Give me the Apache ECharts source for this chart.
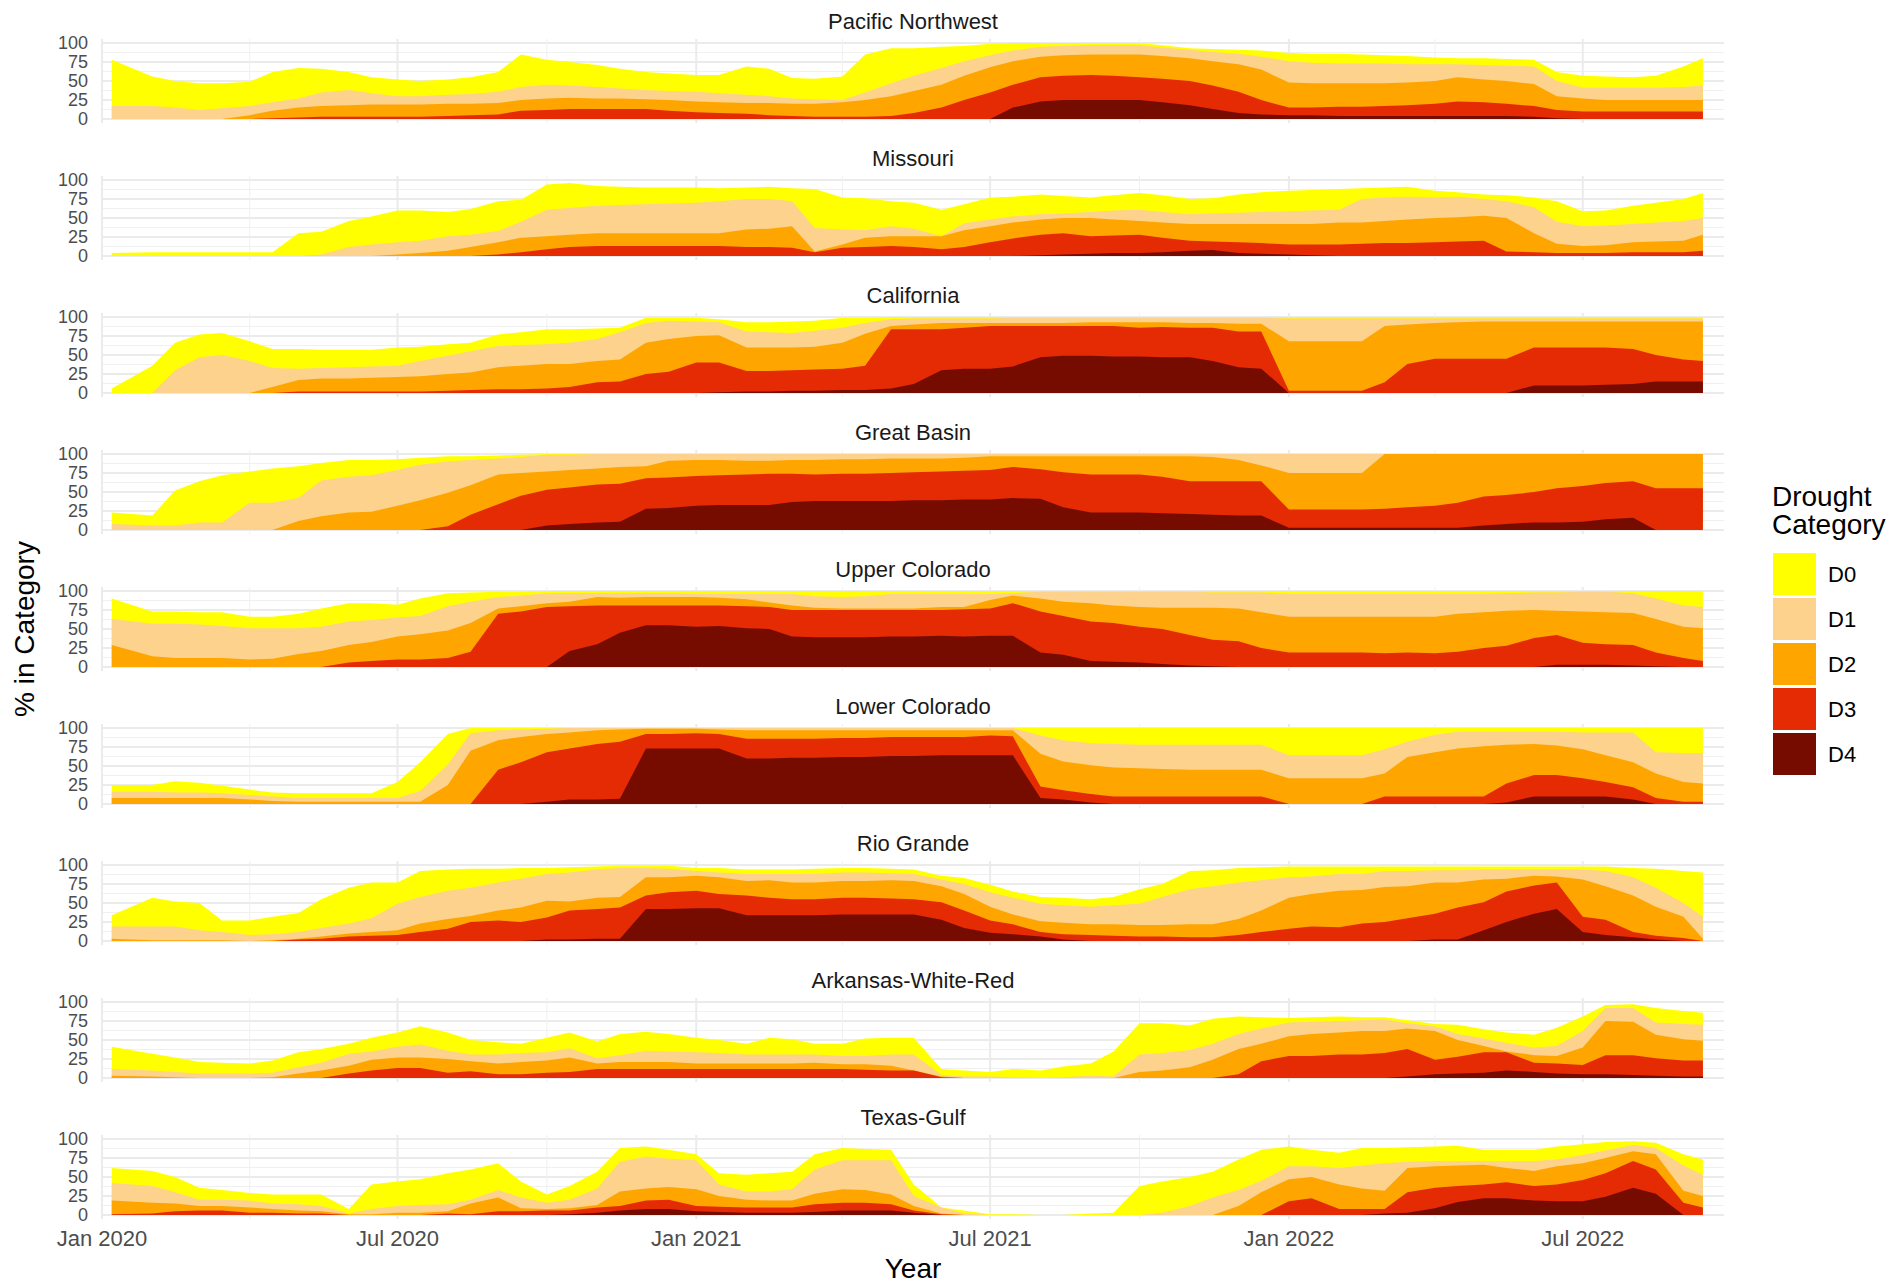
<!DOCTYPE html>
<html><head><meta charset="utf-8">
<script src="https://cdn.jsdelivr.net/npm/echarts@6/dist/echarts.min.js"></script>
<style>html,body{margin:0;padding:0;background:#fff}#c{width:1897px;height:1283px}</style>
</head><body><div id="c"></div>
<script>
// ---------- DATA (cumulative % of area in category or worse: D0 row = D0-D4, ... D4 row = D4) ----------
const dates = [
  '2020-01-07','2020-02-01','2020-02-15','2020-03-01','2020-03-15','2020-04-01','2020-04-15','2020-05-01','2020-05-15','2020-06-01','2020-06-15','2020-07-01','2020-07-15','2020-08-01','2020-08-15','2020-09-01','2020-09-15','2020-10-01','2020-10-15','2020-11-01','2020-11-15','2020-12-01','2020-12-15',
  '2021-01-01','2021-01-15','2021-02-01','2021-02-15','2021-03-01','2021-03-15','2021-04-01','2021-04-15','2021-05-01','2021-05-15','2021-06-01','2021-06-15','2021-07-01','2021-07-15','2021-08-01','2021-08-15','2021-09-01','2021-09-15','2021-10-01','2021-10-15','2021-11-01','2021-11-15','2021-12-01','2021-12-15',
  '2022-01-01','2022-01-15','2022-02-01','2022-02-15','2022-03-01','2022-03-15','2022-04-01','2022-04-15','2022-05-01','2022-05-15','2022-06-01','2022-06-15','2022-07-01','2022-07-15','2022-08-01','2022-08-15','2022-09-01','2022-09-13'];
const categories = ['D0','D1','D2','D3','D4'];
const regionNames = ['Pacific Northwest','Missouri','California','Great Basin','Upper Colorado','Lower Colorado','Rio Grande','Arkansas-White-Red','Texas-Gulf'];
const xTickValues = ['2020-01-01','2020-07-01','2021-01-01','2021-07-01','2022-01-01','2022-07-01'];
const xMinorGrid = ['2020-04-01','2020-10-01','2021-04-01','2021-10-01','2022-04-01'];
const yTickLabels = [0,25,50,75,100];

const pacificNorthwest = [
  [78,56,50,47,47,49,62,67,66,62,55,52,50,52,55,62,85,78,75,71,66,62,60,
   58,58,69,66,54,53,56,85,93,93,95,96,99,100,100,100,100,100,100,97,93,92,91,90,
   87,86,86,85,84,83,81,80,80,79,78,62,57,56,55,57,69,80],
  [17,17,15,12,14,17,22,27,35,38,34,30,30,32,33,36,42,45,44,42,40,38,37,
   36,34,32,30,27,26,25,35,47,57,67,76,84,90,95,96,97,97,97,94,91,88,86,82,
   76,74,73,73,73,72,72,72,71,70,69,50,41,41,41,41,42,44],
  [0,0,0,0,0,5,11,15,17,18,19,19,19,20,20,21,25,27,28,27,27,26,25,
   23,22,21,21,20,20,22,25,30,37,45,57,68,76,82,84,85,85,85,83,80,76,72,65,
   48,47,47,47,47,48,50,55,52,50,46,30,27,25,25,25,25,25],
  [0,0,0,0,0,0,1,2,3,3,3,3,3,4,5,6,11,12,13,13,13,13,11,
   9,8,7,5,4,3,3,3,4,8,15,25,35,45,55,57,58,57,55,53,50,44,36,25,
   15,15,16,16,17,18,20,23,22,20,17,12,10,10,10,10,10,10],
  [0,0,0,0,0,0,0,0,0,0,0,0,0,0,0,0,0,0,0,0,0,0,0,
   0,0,0,0,0,0,0,0,0,0,0,0,0,15,23,25,25,25,25,22,18,13,8,6,
   5,5,4,4,4,4,4,4,4,4,3,1,0,0,0,0,0,0]
];
const missouri = [
  [4,5,5,5,5,5,5,30,32,46,52,60,60,58,62,72,74,94,96,92,91,90,90,
   90,89,90,91,89,88,77,76,72,70,61,68,77,78,81,79,77,80,83,80,75,76,81,84,
   86,87,88,89,90,91,86,84,81,80,77,72,59,60,66,70,75,83],
  [0,0,0,0,0,0,0,0,2,12,15,18,20,26,28,33,45,61,63,66,67,68,69,
   70,72,75,75,72,37,35,34,39,36,26,43,48,52,55,56,58,60,61,58,55,56,57,58,
   59,60,61,75,77,78,77,78,75,72,64,45,39,40,42,44,46,50],
  [0,0,0,0,0,0,0,0,0,0,0,2,4,7,12,18,24,26,28,30,30,30,30,
   30,30,35,36,39,6,15,24,26,26,26,34,39,44,48,50,50,48,46,44,42,42,42,42,
   42,42,44,44,46,48,50,51,53,50,30,16,13,14,18,19,20,28],
  [0,0,0,0,0,0,0,0,0,0,0,0,0,0,0,2,5,9,12,13,13,13,13,
   13,13,12,12,11,5,11,12,13,12,9,12,18,23,28,30,26,27,28,24,20,19,18,17,
   15,15,15,16,17,17,18,19,20,6,5,4,4,4,5,5,5,7],
  [0,0,0,0,0,0,0,0,0,0,0,0,0,0,0,0,0,0,0,0,0,0,0,
   0,0,0,0,0,0,0,0,0,0,0,0,0,0,1,2,3,4,4,5,7,8,4,3,
   2,1,0,0,0,0,0,0,0,0,0,0,0,0,0,0,0,0]
];
const california = [
  [6,36,66,77,79,68,58,58,57,57,57,60,61,64,66,77,80,84,84,85,86,99,99,
   99,97,93,93,94,95,99,99,100,100,100,100,100,100,100,100,100,100,100,100,100,100,100,100,
   100,100,100,100,100,100,100,100,100,100,100,100,100,100,100,100,100,100],
  [0,0,30,47,50,42,33,32,33,34,35,36,42,49,55,62,63,64,66,71,80,92,95,
   94,93,81,80,79,82,86,92,97,98,98,98,98,99,99,99,99,99,99,99,99,99,99,99,
   98,98,98,98,98,98,98,98,98,98,98,98,98,98,98,98,98,98],
  [0,0,0,0,0,0,8,17,19,19,20,21,22,25,27,34,36,38,38,42,44,66,71,
   75,76,60,60,60,61,66,78,88,90,92,92,92,92,92,92,93,93,93,93,92,92,91,91,
   68,68,68,68,88,90,92,93,94,94,94,94,94,94,94,94,94,94],
  [0,0,0,0,0,0,0,2,2,2,2,2,2,3,4,5,5,6,8,14,15,25,28,
   40,40,29,29,30,31,32,36,84,84,84,86,88,88,88,88,88,88,86,87,86,86,81,81,
   3,3,3,3,14,38,45,45,45,45,60,60,60,60,58,50,44,42],
  [0,0,0,0,0,0,0,0,0,0,0,0,0,0,0,0,0,0,0,0,0,0,0,
   0,1,2,2,3,3,4,4,6,12,30,32,32,35,47,49,49,48,48,47,47,42,34,32,
   0,0,0,0,0,0,0,0,0,0,10,10,10,11,12,15,15,15]
];
const greatBasin = [
  [23,19,52,64,72,77,81,84,88,92,92,93,95,97,97,98,99,100,100,100,100,100,100,
   100,100,100,100,100,100,100,100,100,100,100,100,100,100,100,100,100,100,100,100,100,100,100,100,
   100,100,100,100,100,100,100,100,100,100,100,100,100,100,100,100,100,100],
  [8,6,6,10,10,36,36,42,65,70,72,79,86,90,92,94,96,99,99,100,100,100,100,
   100,100,100,100,100,100,100,100,100,100,100,100,100,100,100,100,100,100,100,100,100,100,100,100,
   100,100,100,100,100,100,100,100,100,100,100,100,100,100,100,100,100,100],
  [0,0,0,0,0,0,0,12,18,23,24,32,39,49,59,73,75,77,79,81,83,84,91,
   92,92,91,91,92,92,93,93,94,94,94,95,97,97,97,97,97,97,97,97,97,96,92,85,
   75,75,75,75,100,100,100,100,100,100,100,100,100,100,100,100,100,100],
  [0,0,0,0,0,0,0,0,0,0,0,0,0,5,20,34,45,53,56,60,61,68,69,
   71,72,73,74,74,73,74,74,75,76,77,78,79,83,80,76,73,73,73,70,64,64,64,64,
   27,27,27,27,28,30,32,36,44,46,50,55,58,62,64,55,55,55],
  [0,0,0,0,0,0,0,0,0,0,0,0,0,0,0,0,0,6,8,10,11,28,29,
   32,33,33,33,37,38,38,38,38,39,39,40,40,42,41,30,23,23,23,22,21,20,19,19,
   3,3,3,3,3,3,3,3,6,8,10,10,11,14,16,0,0,0]
];
const upperColorado = [
  [90,73,73,72,72,66,66,70,77,84,84,82,90,97,98,99,99,100,100,100,100,100,100,
   100,100,100,100,100,100,100,100,100,100,100,100,100,100,100,100,100,100,100,100,100,100,100,100,
   100,100,100,100,100,100,100,100,100,100,100,100,100,100,100,100,100,100],
  [63,57,57,56,54,51,51,51,53,60,62,65,67,80,86,92,94,97,97,97,97,97,97,
   96,96,96,96,96,93,92,93,96,96,96,96,96,97,99,99,99,99,99,99,99,98,98,98,
   96,96,96,96,96,96,96,96,96,97,98,98,99,99,97,90,81,79],
  [29,14,12,12,12,10,11,17,21,29,33,40,43,48,58,77,80,84,86,92,91,92,92,
   92,91,89,85,81,78,77,77,77,77,79,79,88,94,90,86,84,81,79,78,78,78,77,72,
   66,66,66,66,66,66,66,70,72,74,75,74,73,72,71,63,53,51],
  [0,0,0,0,0,0,0,0,0,6,8,10,10,12,20,70,73,79,80,81,81,81,81,
   81,81,80,79,75,75,75,75,75,75,75,76,77,84,73,67,60,58,53,50,42,36,34,25,
   19,19,19,19,18,19,18,20,25,28,38,42,32,30,29,19,12,8],
  [0,0,0,0,0,0,0,0,0,0,0,0,0,0,0,0,0,0,21,30,45,55,55,
   53,54,51,50,40,39,39,39,40,40,41,40,41,41,19,16,8,7,6,4,2,1,0,0,
   0,0,0,0,0,0,0,0,0,0,0,3,3,3,2,1,0,0]
];
const lowerColorado = [
  [25,25,30,28,24,19,15,14,14,14,14,29,55,92,100,100,100,100,100,100,100,100,100,
   100,100,100,100,100,100,100,100,100,100,100,100,100,100,100,100,100,100,100,100,100,100,100,100,
   100,100,100,100,100,100,100,100,100,100,100,100,100,100,100,100,100,100],
  [16,16,15,15,14,12,10,8,8,8,8,8,17,52,93,97,98,99,100,100,100,100,100,
   100,100,100,100,100,100,100,100,100,100,100,100,100,100,90,84,80,79,78,78,78,78,78,78,
   64,64,64,64,72,82,91,95,95,95,95,95,94,94,94,68,67,67],
  [8,8,8,8,8,6,4,3,3,3,3,3,3,25,70,84,88,92,94,97,98,99,99,
   99,98,97,97,97,97,97,97,97,97,97,97,97,97,66,56,51,48,47,46,45,45,45,45,
   34,34,34,34,40,62,68,73,76,78,79,77,72,64,55,40,29,27],
  [0,0,0,0,0,0,0,0,0,0,0,0,0,0,0,45,55,68,73,79,82,92,92,
   93,92,86,86,86,86,87,87,88,88,88,88,90,89,23,18,13,10,10,10,10,10,10,10,
   0,0,0,0,10,10,10,10,10,27,38,38,34,29,22,8,3,3],
  [0,0,0,0,0,0,0,0,0,0,0,0,0,0,0,0,0,3,6,6,7,73,73,
   73,73,60,60,61,61,62,62,63,63,64,64,64,64,8,6,2,0,0,0,0,0,0,0,
   0,0,0,0,0,0,0,0,0,2,10,10,10,10,6,0,0,0]
];
const rioGrande = [
  [34,57,52,50,27,27,32,37,55,70,77,77,92,94,95,95,96,96,97,98,99,99,99,
   96,96,94,94,94,95,96,96,95,94,86,83,74,65,58,57,55,58,68,75,92,93,96,97,
   98,98,98,98,98,98,98,98,98,98,98,98,98,98,96,95,92,90],
  [19,19,19,14,12,8,9,12,17,23,30,49,58,66,70,77,82,88,90,94,96,96,95,
   92,90,88,88,88,88,90,90,89,88,81,75,64,57,49,47,45,47,49,58,68,72,77,80,
   84,85,88,88,92,92,93,93,94,94,94,94,94,92,84,70,50,32],
  [3,1,1,1,1,0,1,3,6,10,12,14,23,29,33,40,44,53,52,57,58,84,84,
   86,84,79,80,77,77,79,79,80,79,72,62,45,35,26,24,22,22,21,21,22,22,29,40,
   57,62,66,67,71,72,77,77,81,82,86,85,81,72,60,45,32,3],
  [0,0,0,0,0,0,0,2,3,6,7,8,12,16,25,27,25,31,40,42,44,60,64,
   66,62,60,57,55,55,57,57,56,55,51,40,27,22,12,9,8,7,6,6,5,5,8,12,
   16,19,18,23,25,30,36,44,51,65,73,77,32,28,12,7,4,0],
  [0,0,0,0,0,0,0,0,0,0,0,0,0,0,0,0,0,2,2,3,3,42,42,
   43,43,34,34,34,34,35,35,35,35,28,17,11,9,6,2,0,0,0,0,0,0,0,0,
   0,0,0,0,0,0,2,2,14,25,36,42,12,8,5,2,0,0]
];
const arkansasWhiteRed = [
  [41,32,27,21,20,19,23,34,38,45,53,60,68,60,50,47,45,53,60,48,58,61,58,
   53,50,45,53,51,45,45,52,53,53,12,10,8,12,10,15,19,35,72,72,69,78,81,80,
   79,80,81,80,80,76,71,70,64,60,57,66,81,96,97,92,88,86],
  [12,10,8,6,6,6,7,14,20,32,35,41,44,36,31,31,33,34,39,26,30,36,35,
   34,33,31,31,31,31,29,29,31,31,4,2,2,1,0,1,3,2,31,33,37,45,58,65,
   73,74,75,76,77,72,68,58,52,46,40,42,62,92,92,73,71,70],
  [3,2,1,0,0,0,1,6,10,16,24,27,27,25,22,19,21,23,27,19,21,21,21,
   19,19,19,19,19,20,18,18,16,10,2,0,0,0,0,0,0,0,8,10,14,24,38,45,
   55,58,60,62,62,65,62,50,42,35,30,29,40,75,74,57,51,49],
  [0,0,0,0,0,0,0,0,0,6,10,13,13,7,9,5,5,7,8,12,12,12,12,
   12,12,12,12,12,12,12,11,10,10,1,0,0,0,0,0,0,0,0,0,0,0,5,22,
   29,29,31,31,33,38,24,28,34,34,20,19,17,30,30,26,23,23],
  [0,0,0,0,0,0,0,0,0,0,0,0,0,0,0,0,0,0,0,0,0,0,0,
   0,0,0,0,0,0,0,0,0,0,0,0,0,0,0,0,0,0,0,0,0,0,0,0,
   0,0,0,0,0,2,5,6,7,10,8,6,5,5,4,3,2,2]
];
const texasGulf = [
  [62,58,50,36,33,29,27,27,27,8,40,44,47,55,60,68,44,27,38,57,88,90,86,
   80,55,53,55,57,80,88,87,86,40,10,6,1,1,0,0,2,3,38,44,50,57,73,86,
   90,86,82,88,88,89,90,91,86,86,86,90,93,96,97,95,80,73],
  [42,38,30,20,20,19,15,14,12,2,8,12,13,14,20,33,23,16,20,35,70,77,74,
   72,40,31,31,34,60,72,72,72,25,10,2,0,0,0,0,0,0,0,3,12,23,33,45,
   64,64,62,65,68,70,71,71,71,71,71,73,79,85,92,88,65,53],
  [19,16,15,12,12,10,8,6,5,1,1,3,3,5,15,23,9,8,9,13,31,35,37,
   34,25,20,19,19,28,34,33,27,12,2,0,0,0,0,0,0,0,0,0,0,0,12,30,
   47,50,40,35,32,62,64,65,66,62,58,64,68,75,84,80,32,25],
  [1,2,5,6,6,3,3,2,2,0,0,0,0,2,1,5,5,6,6,10,12,19,20,
   12,11,10,10,10,14,16,16,14,6,1,0,0,0,0,0,0,0,0,0,0,0,0,0,
   18,22,8,8,8,30,36,38,40,43,38,40,46,55,71,60,16,10],
  [0,0,0,0,0,0,0,0,0,0,0,0,0,0,0,0,0,0,1,3,6,8,8,
   5,4,3,3,3,4,6,6,6,3,0,0,0,0,0,0,0,0,0,0,0,0,0,0,
   0,0,0,0,2,3,9,17,22,22,19,18,18,24,36,28,0,0]
];
const regionData = [pacificNorthwest, missouri, california, greatBasin, upperColorado, lowerColorado, rioGrande, arkansasWhiteRed, texasGulf];

// ---------- STYLE ----------
const colors = ['#FFFF00','#FCD28C','#FFA500','#E42B04','#760C00'];
const FONT = '"Liberation Sans", Arial, Helvetica, sans-serif';
const monthNames = ['Jan','Feb','Mar','Apr','May','Jun','Jul','Aug','Sep','Oct','Nov','Dec'];
const toTs = s => { const [y,m,d] = s.split('-').map(Number); return Date.UTC(y, m-1, d); };
const PANEL_TOP = 43, PANEL_STEP = 137, PANEL_H = 76, LEFT = 102, RIGHT = 173;
const X_MIN = toTs('2020-01-01'), X_MAX = toTs('2022-09-26');
const CENTER_X = (LEFT + 1897 - RIGHT) / 2;

const grids = [], xAxes = [], yAxes = [], series = [], graphics = [];
regionNames.forEach((name, i) => {
  const top = PANEL_TOP + PANEL_STEP * i;
  grids.push({ left: LEFT, right: RIGHT, top: top, height: PANEL_H });
  const last = i === regionNames.length - 1;
  xAxes.push({
    type: 'value', gridIndex: i, min: X_MIN, max: X_MAX, scale: true,
    axisLine: { show: false }, axisTick: { show: false }, splitLine: { show: false },
    axisLabel: last ? {
      show: true, customValues: xTickValues.map(toTs), margin: 12, showMinLabel: true, showMaxLabel: true,
      fontFamily: FONT, fontSize: 22, color: '#4D4D4D',
      formatter: v => { const d = new Date(v); return monthNames[d.getUTCMonth()] + ' ' + d.getUTCFullYear(); }
    } : { show: false }
  });
  yAxes.push({
    type: 'value', gridIndex: i, min: 0, max: 100, interval: 25,
    axisLine: { show: false }, axisTick: { show: false },
    axisLabel: { show: true, margin: 14, fontFamily: FONT, fontSize: 18, lineHeight: 18, color: '#4D4D4D',
      showMinLabel: true, showMaxLabel: true, hideOverlap: false,
      customValues: yTickLabels },
    splitLine: { show: true, lineStyle: { color: '#EBEBEB', width: 2 } },
    minorTick: { show: false, splitNumber: 2 },
    minorSplitLine: { show: true, lineStyle: { color: '#F0F0F0', width: 1 } }
  });
  // vertical grid lines (major Jan/Jul, minor Apr/Oct)
  const vData = xTickValues.map(s => [toTs(s), 1]).concat(xMinorGrid.map(s => [toTs(s), 0]));
  series.push({
    type: 'custom', xAxisIndex: i, yAxisIndex: i, silent: true, z: 1,
    data: vData,
    renderItem: (params, api) => {
      const x = api.value(0);
      const major = api.value(1) === 1;
      const p0 = api.coord([x, 0]), p1 = api.coord([x, 100]);
      return { type: 'line', shape: { x1: p0[0], y1: p0[1] + 4, x2: p1[0], y2: p1[1] - 4 },
        style: { stroke: major ? '#EBEBEB' : '#F0F0F0', lineWidth: major ? 2 : 1 } };
    }
  });
  categories.forEach((cat, k) => {
    series.push({
      name: cat, type: 'line', xAxisIndex: i, yAxisIndex: i, z: 2 + k,
      data: dates.map((d, j) => [toTs(d), regionData[i][k][j]]),
      showSymbol: false, symbol: 'none', silent: true,
      color: colors[k], itemStyle: { color: colors[k] },
      lineStyle: { width: 0, color: colors[k] },
      areaStyle: { color: colors[k], opacity: 1 }
    });
  });
  graphics.push({ type: 'text', x: CENTER_X, y: 21 + PANEL_STEP * i,
    style: { text: name, font: '22px ' + FONT, fill: '#1A1A1A', textAlign: 'center', textVerticalAlign: 'middle' } });
});

graphics.push({ type: 'text', x: 24, y: 629, rotation: Math.PI / 2,
  style: { text: '% in Category', font: '28px ' + FONT, fill: '#000', textAlign: 'center', textVerticalAlign: 'middle' } });
graphics.push({ type: 'text', x: CENTER_X, y: 1268,
  style: { text: 'Year', font: '28px ' + FONT, fill: '#000', textAlign: 'center', textVerticalAlign: 'middle' } });
graphics.push({ type: 'text', x: 1772, y: 496,
  style: { text: 'Drought', font: '28px ' + FONT, fill: '#000', textAlign: 'left', textVerticalAlign: 'middle' } });
graphics.push({ type: 'text', x: 1772, y: 524,
  style: { text: 'Category', font: '28px ' + FONT, fill: '#000', textAlign: 'left', textVerticalAlign: 'middle' } });

const chart = echarts.init(document.getElementById('c'), null, { renderer: 'svg' });
chart.setOption({
  animation: false,
  backgroundColor: '#FFFFFF',
  grid: grids, xAxis: xAxes, yAxis: yAxes, series: series,
  legend: {
    orient: 'vertical', left: 1773, top: 553, padding: 0,
    itemWidth: 43, itemHeight: 42, itemGap: 3, icon: 'rect', selectedMode: false,
    data: categories.map((c, k) => ({ name: c, itemStyle: { color: colors[k], borderWidth: 0 } })),
    textStyle: { fontFamily: FONT, fontSize: 22, color: '#000', padding: [0, 0, 0, 7] }
  },
  graphic: graphics
});

// sanity check of array lengths
const bad = [];
regionData.forEach((r, i) => r.forEach((row, k) => { if (row.length !== dates.length) bad.push(regionNames[i] + ' ' + categories[k] + ':' + row.length); }));
if (bad.length) throw new Error('length mismatch ' + dates.length + ' -> ' + bad.join(', '));
</script></body></html>
